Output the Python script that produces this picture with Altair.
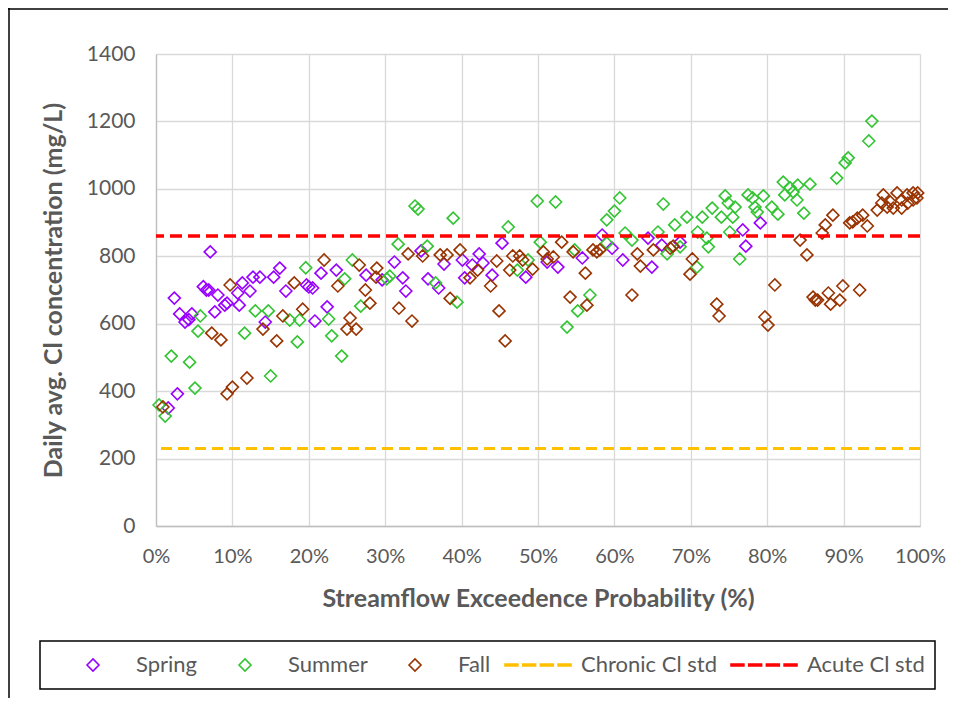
import altair as alt
import pandas as pd

# ---------------- data ----------------
spring_x = [1.6, 2.8, 2.4, 3.1, 3.8, 4.3, 4.7, 6.2, 6.6, 6.9, 7.1, 7.7, 8.1, 9.0, 9.3, 10.7,
            10.9, 11.3, 12.3, 12.7, 13.6, 14.3, 15.4, 16.2, 17.0, 19.7, 20.0, 20.5, 20.8,
            21.6, 22.4, 23.6, 27.5, 29.6, 31.2, 32.3, 32.7, 34.7, 35.6, 37.0, 37.7, 40.1,
            40.4, 41.4, 42.3, 42.8, 44.0, 45.3, 48.4, 51.2, 52.6, 55.8, 58.4, 59.7, 61.1,
            64.4, 64.9, 66.2, 68.6, 76.8, 77.2, 79.1]
spring_y = [350, 392, 676, 629, 605, 612, 629, 710, 700, 700, 813, 635, 685, 655, 661, 691,
            655, 721, 697, 738, 738, 605, 738, 765, 697, 715, 709, 706, 608,
            750, 650, 759, 744, 730, 783, 736, 697, 816, 733, 706, 777, 789,
            736, 774, 807, 780, 744, 839, 738, 783, 768, 795, 863, 824, 789,
            854, 768, 833, 842, 878, 830, 899]

summer_x = [0.4, 1.2, 2.0, 4.4, 5.1, 5.5, 5.8, 11.6, 13.0, 14.7, 15.0, 17.5, 18.8, 18.5,
            19.6, 22.6, 23.0, 24.3, 24.7, 25.7, 26.8, 30.2, 30.6, 31.7, 33.9, 34.3, 35.5,
            36.6, 38.9, 39.4, 46.1, 47.3, 48.7, 49.9, 50.3, 52.3, 53.8, 54.8, 55.2, 56.8,
            59.0, 59.0, 60.0, 60.7, 61.4, 62.3, 65.7, 66.4, 66.9, 67.9, 68.6, 69.5, 70.8,
            70.9, 71.5, 72.1, 72.3, 72.8, 74.0, 74.5, 74.9, 75.1, 75.5, 75.8, 76.4, 77.5,
            78.1, 78.4, 78.7, 79.5, 80.6, 81.4, 82.1, 82.3, 83.0, 83.4, 83.9, 84.0, 84.8,
            85.6, 89.1, 90.2, 90.6, 93.3, 93.7]
summer_y = [359, 326, 504, 486, 409, 578, 623, 572, 638, 638, 445, 611, 611, 546,
            766, 614, 564, 504, 733, 789, 652, 733, 741, 836, 949, 940, 830,
            721, 913, 664, 887, 759, 789, 964, 842, 961, 590, 819, 638, 685,
            908, 839, 934, 973, 869, 848, 872, 955, 807, 893, 828, 916, 768,
            872, 916, 854, 828, 943, 916, 979, 958, 872, 916, 946, 792, 982,
            973, 946, 931, 979, 946, 925, 1020, 982, 1003, 991, 967, 1011, 928,
            1014, 1032, 1077, 1092, 1142, 1201]

fall_x = [0.9, 7.3, 8.5, 9.3, 9.7, 10.0, 11.9, 14.0, 15.8, 16.6, 18.1, 19.2, 22.0, 23.8,
          25.0, 25.4, 26.2, 26.6, 27.4, 28.0, 28.8, 28.9, 31.8, 33.0, 33.5, 34.9, 37.2,
          38.1, 38.5, 39.8, 41.1, 42.1, 43.8, 44.6, 44.9, 45.7, 46.3, 46.7, 47.6, 48.0,
          49.3, 50.7, 51.2, 52.0, 53.1, 54.2, 54.6, 56.2, 56.4, 57.2, 57.7, 58.1, 62.3,
          63.0, 63.4, 65.1, 67.3, 67.7, 69.9, 70.2, 73.4, 73.7, 79.7, 80.1, 81.0, 84.3,
          85.2, 86.0, 86.3, 86.6, 87.2, 87.6, 88.0, 88.3, 88.6, 89.5, 89.9, 90.8, 91.2,
          91.8, 92.1, 92.5, 93.1, 94.4, 95.0, 95.2, 95.7, 96.1, 96.5, 97.0, 97.6, 97.6,
          98.3, 98.4, 99.1, 99.1, 99.6, 99.7]
fall_y = [353, 572, 552, 392, 715, 412, 439, 584, 549, 623, 721, 643, 789, 712,
          584, 617, 584, 774, 700, 661, 738, 765, 646, 807, 608, 801, 804,
          804, 675, 819, 736, 759, 712, 786, 638, 549, 759, 801, 801, 789,
          762, 813, 792, 798, 842, 679, 813, 750, 655, 819, 813, 819, 685,
          807, 771, 819, 824, 830, 747, 792, 658, 623, 620, 596, 715, 848,
          804, 679, 670, 670, 869, 893, 691, 658, 922, 670, 712, 899, 902,
          913, 700, 922, 890, 937, 958, 982, 946, 961, 943, 988, 967, 943,
          982, 958, 988, 967, 973, 988]

series_names = ["Spring", "Summer", "Fall", "Chronic Cl std", "Acute Cl std"]
series_colors = ["#9900FF", "#33C433", "#993300", "#FFC000", "#FF0000"]
chronic_std = [230]
acute_std = [860]
x_ticks = [0, 10, 20, 30, 40, 50, 60, 70, 80, 90, 100]
y_ticks = [0, 200, 400, 600, 800, 1000, 1200, 1400]

# ---------------- tables ----------------
points = pd.concat([
    pd.DataFrame({"pct": spring_x, "conc": spring_y, "season": "Spring"}),
    pd.DataFrame({"pct": summer_x, "conc": summer_y, "season": "Summer"}),
    pd.DataFrame({"pct": fall_x, "conc": fall_y, "season": "Fall"}),
], ignore_index=True)
points["ord"] = range(len(points))

chronic_df = pd.DataFrame({"conc": chronic_std})
acute_df = pd.DataFrame({"conc": acute_std})
dummy = pd.DataFrame({"a": [0]})

# legend symbols: diamond (with an invisible left extent so every legend entry
# has the same footprint) and a four-dash line
DIAMOND = "M-5.5,0M-1,0L0,-1L1,0L0,1Z"
DASH = ("M-5.5,-0.15H-3.35V0.15H-5.5Z M-2.55,-0.15H-0.4V0.15H-2.55Z "
        "M0.4,-0.15H2.55V0.15H0.4Z M3.35,-0.15H5.5V0.15H3.35Z")
shape_range = [DIAMOND, DIAMOND, DIAMOND, DASH, DASH]

FONT = "Lato"
GRAY = "#595959"

xscale = alt.Scale(domain=[0, 100], nice=False, zero=True)
yscale = alt.Scale(domain=[0, 1400], nice=False)

pts = alt.Chart(points).mark_point(filled=False, size=144, strokeWidth=1.6, opacity=1).encode(
    x=alt.X("pct:Q", scale=xscale,
            axis=alt.Axis(values=x_ticks, labelExpr="datum.value + '%'", labelFlush=False,
                          labelFontSize=20,
                          title="Streamflow Exceedence Probability (%)",
                          labelPadding=20, titlePadding=20)),
    y=alt.Y("conc:Q", scale=yscale,
            axis=alt.Axis(values=y_ticks, format="d", title="Daily avg. Cl concentration (mg/L)",
                          labelFontSize=21, labelFlush=False,
                          labelPadding=21, titlePadding=20)),
    color=alt.Color("season:N", scale=alt.Scale(domain=series_names, range=series_colors),
                    legend=alt.Legend(title=None)),
    shape=alt.Shape("season:N", scale=alt.Scale(domain=series_names, range=shape_range),
                    legend=alt.Legend(title=None)),
    order=alt.Order("ord:Q"),
)

chronic = alt.Chart(chronic_df).mark_rule(color="#FFC000", strokeWidth=3,
                                          strokeDash=[11, 6]).encode(
    y=alt.Y("conc:Q", scale=yscale))
acute = alt.Chart(acute_df).mark_rule(color="#FF0000", strokeWidth=3.5,
                                      strokeDash=[12, 6]).encode(
    y=alt.Y("conc:Q", scale=yscale))

legend_box = alt.Chart(dummy).mark_rect(fill="white", fillOpacity=0, stroke="black",
                                        strokeWidth=1.5).encode(
    x=alt.value(-116), x2=alt.value(779), y=alt.value(587), y2=alt.value(635))

frame_left = alt.Chart(dummy).mark_rule(color="black", strokeWidth=1.5).encode(
    x=alt.value(-147), y=alt.value(-46), y2=alt.value(700))
frame_top = alt.Chart(dummy).mark_rule(color="black", strokeWidth=1.5).encode(
    x=alt.value(-148), x2=alt.value(800), y=alt.value(-45))

chart = alt.layer(legend_box, frame_left, frame_top, pts, chronic, acute).properties(
    width=764, height=472,
    autosize=alt.AutoSizeParams(type="none"),
    padding={"left": 148, "top": 46, "right": 28, "bottom": 172},
    background="white",
).configure_view(stroke=None).configure_axis(
    grid=True, gridColor="#D9D9D9", gridWidth=1.3,
    domainColor="#BFBFBF", domainWidth=1.3,
    ticks=False, tickSize=0,
    labelFont=FONT, labelColor=GRAY,
    titleFont=FONT, titleFontSize=25, titleFontWeight="bold", titleColor=GRAY,
).configure_legend(
    orient="none", legendX=-74, legendY=600, direction="horizontal",
    labelFont=FONT, labelFontSize=22, labelColor=GRAY,
    symbolSize=144, symbolStrokeWidth=1.6, labelOffset=32, columnPadding=10,
    padding=0,
)

chart.save("out.html", embed_options={"renderer": "svg", "actions": False})
